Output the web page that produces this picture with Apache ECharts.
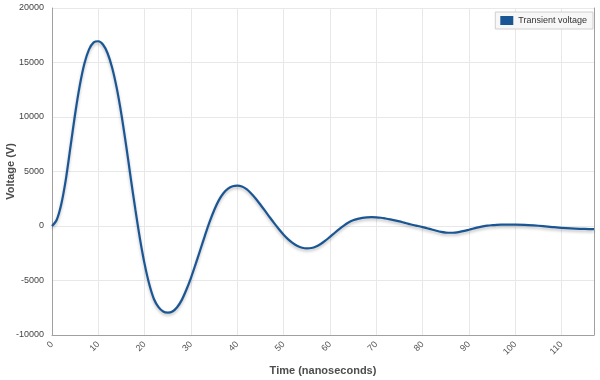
<!DOCTYPE html>
<html>
<head>
<meta charset="utf-8">
<script src="https://cdn.jsdelivr.net/npm/echarts@6/dist/echarts.min.js"></script>
<style>html,body{margin:0;padding:0;background:#fff}#c{width:600px;height:380px}</style>
</head>
<body>
<div id="c"></div>
<script>
var seriesName = 'Transient voltage';
var times = [0,1,2,3,4,5,6,7,8,9,10,11,12,13,14,15,16,17,18,19,20,21,22,23,24,25,26,27,28,29,30,31,32,33,34,35,36,37,38,39,40,41,42,43,44,45,46,47,48,49,50,51,52,53,54,55,56,57,58,59,60,61,62,63,64,65,66,67,68,69,70,71,72,73,74,75,76,77,78,79,80,81,82,83,84,85,86,87,88,89,90,91,92,93,94,95,96,97,98,99,100,102,104,106,108,110,112,114,116,117];
var volts = [0,550,2000,4300,7300,10300,12900,14900,16200,16850,16950,16650,15850,14500,12600,10200,7400,4400,1500,-1200,-3500,-5350,-6700,-7450,-7850,-7950,-7850,-7450,-6800,-5850,-4750,-3500,-2200,-900,350,1450,2350,3000,3420,3640,3700,3620,3380,2980,2500,1950,1380,800,240,-300,-800,-1230,-1580,-1840,-2000,-2060,-2020,-1880,-1650,-1350,-1000,-640,-290,40,320,520,650,740,790,810,800,760,690,610,520,420,310,200,90,0,-100,-210,-320,-440,-540,-600,-620,-600,-540,-450,-340,-230,-120,-30,40,75,100,120,130,135,135,110,55,-15,-95,-170,-225,-260,-278,-282];
var xTicks = {min: 0, max: 117, interval: 10};
var yTicks = {min: -10000, max: 20000, interval: 5000};

var data = times.map(function (t, i) { return [t, volts[i]]; });
var chart = echarts.init(document.getElementById('c'), null, {renderer: 'canvas'});
var font = 'Liberation Sans, Arial, sans-serif';
chart.setOption({
  animation: false,
  backgroundColor: '#fff',
  textStyle: {fontFamily: font},
  grid: {left: 52, right: 6, top: 8, bottom: 45, containLabel: false, outerBoundsMode: 'none'},
  legend: {
    right: 7, top: 12,
    data: [seriesName],
    icon: 'rect', itemWidth: 13, itemHeight: 9, itemGap: 5,
    backgroundColor: '#f7f7f7', borderColor: '#cfcfcf', borderWidth: 1,
    padding: [4, 6, 4, 5],
    textStyle: {fontSize: 9, color: '#333', fontFamily: font}
  },
  xAxis: {
    type: 'value', min: xTicks.min, max: xTicks.max, interval: xTicks.interval,
    name: 'Time (nanoseconds)', nameLocation: 'middle', nameGap: 30, nameMoveOverlap: false,
    nameTextStyle: {fontSize: 11, fontWeight: 'bold', color: '#4d4d4d', fontFamily: font},
    axisLine: {show: true, onZero: false, lineStyle: {color: '#a0a0a0', width: 1}},
    axisTick: {show: false},
    axisLabel: {rotate: 45, fontSize: 9, color: '#555', margin: 8, showMaxLabel: false, fontFamily: font,
      formatter: function (v) { return String(v); }},
    splitLine: {show: true, lineStyle: {color: '#e8e8e8', width: 1}}
  },
  yAxis: [{
    type: 'value', min: yTicks.min, max: yTicks.max, interval: yTicks.interval,
    name: 'Voltage (V)', nameLocation: 'middle', nameGap: 36, nameRotate: 90, nameMoveOverlap: false,
    nameTextStyle: {fontSize: 11, fontWeight: 'bold', color: '#4d4d4d', fontFamily: font},
    axisLine: {show: true, onZero: false, lineStyle: {color: '#a0a0a0', width: 1}},
    axisTick: {show: false},
    axisLabel: {fontSize: 9, color: '#444', margin: 8, fontFamily: font,
      formatter: function (v) { return String(v); }},
    splitLine: {show: true, lineStyle: {color: '#e8e8e8', width: 1}}
  }, {
    type: 'value', position: 'right', min: yTicks.min, max: yTicks.max, interval: yTicks.interval,
    axisLine: {show: true, onZero: false, lineStyle: {color: '#a0a0a0', width: 1}},
    axisTick: {show: false}, axisLabel: {show: false}, splitLine: {show: false}
  }],
  series: [{
    name: seriesName, type: 'line', data: data, smooth: 0.3, showSymbol: false,
    itemStyle: {color: '#1b5694'},
    lineStyle: {color: '#1b5694', width: 2.2, shadowColor: 'rgba(0,0,0,0.25)', shadowBlur: 3, shadowOffsetY: 2}
  }]
});
</script>
</body>
</html>
